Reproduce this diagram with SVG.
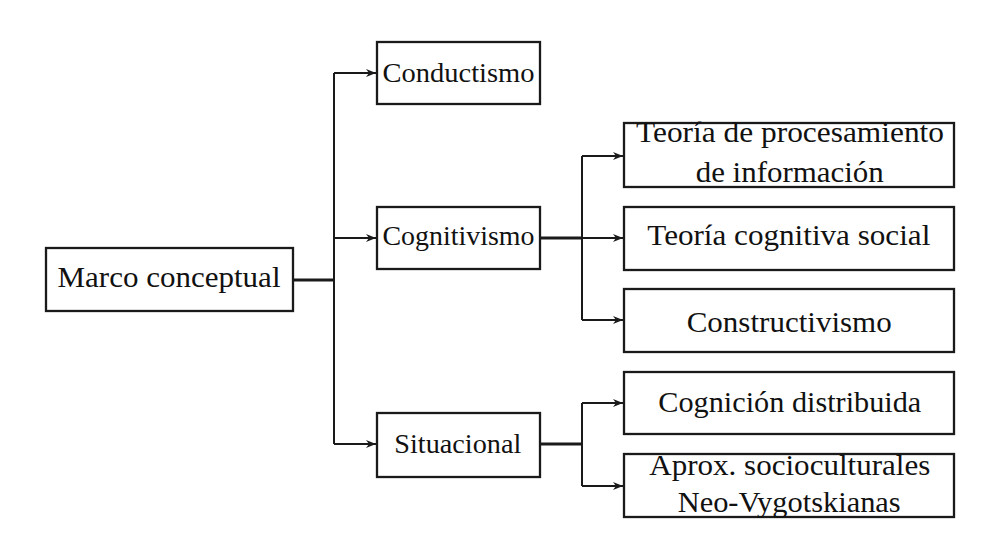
<svg xmlns="http://www.w3.org/2000/svg" width="984" height="536" viewBox="0 0 984 536">
<style>
.box{fill:#fff;stroke:#1a1a1a;stroke-width:2.3}
.t{font-family:"Liberation Serif","Times New Roman",serif;fill:#111}
.l0{font-size:30px}
.l1{font-size:27.5px}
.l2{font-size:29px}
.c{fill:none;stroke:#1a1a1a;stroke-width:2}
.a{fill:none;stroke:#1a1a1a;stroke-width:1.9;marker-end:url(#ah)}
.thick{stroke-width:2.8}
</style>
<defs>
<marker id="ah" viewBox="0 0 10 8" refX="10" refY="4" markerWidth="11" markerHeight="8" markerUnits="userSpaceOnUse" orient="auto">
<path d="M0,0 L10,4 L0,8 L3,4 Z" fill="#1a1a1a"/>
</marker>
</defs>
<rect width="984" height="536" fill="#fff"/>
<g id="connectors">
<path class="c thick" d="M293,280 H334"/>
<path class="c" d="M334,73 V444"/>
<path class="a" d="M334,73 H376"/>
<path class="a" d="M334,238 H376"/>
<path class="a" d="M334,444 H376"/>
<path class="c thick" d="M540,238 H582"/>
<path class="c" d="M582,156 V320"/>
<path class="a" d="M582,156 H623"/>
<path class="a" d="M582,238 H623"/>
<path class="a" d="M582,320 H623"/>
<path class="c thick" d="M540,444 H582"/>
<path class="c" d="M582,403 V486"/>
<path class="a" d="M582,403 H623"/>
<path class="a" d="M582,486 H623"/>
</g>
<g id="marco">
<rect class="box" x="46" y="248" width="247" height="63"/>
<text class="t l0" x="57.5" y="286.5" textLength="223" lengthAdjust="spacingAndGlyphs">Marco conceptual</text>
</g>
<g id="conductismo">
<rect class="box" x="377" y="42" width="163" height="62"/>
<text class="t l1" x="382.5" y="81.7" textLength="152" lengthAdjust="spacingAndGlyphs">Conductismo</text>
</g>
<g id="cognitivismo">
<rect class="box" x="377" y="207" width="163" height="62"/>
<text class="t l1" x="382.5" y="245" textLength="152" lengthAdjust="spacingAndGlyphs">Cognitivismo</text>
</g>
<g id="situacional">
<rect class="box" x="377" y="413" width="163" height="64"/>
<text class="t l1" x="394.3" y="453" textLength="127" lengthAdjust="spacingAndGlyphs">Situacional</text>
</g>
<g id="procesamiento">
<rect class="box" x="624" y="123" width="330" height="64"/>
<text class="t l2" x="636" y="141.7" textLength="308" lengthAdjust="spacingAndGlyphs">Teoría de procesamiento</text>
<text class="t l2" x="695.7" y="181.7" textLength="188" lengthAdjust="spacingAndGlyphs">de información</text>
</g>
<g id="cognitiva-social">
<rect class="box" x="624" y="207" width="330" height="63"/>
<text class="t l2" x="647.3" y="245" textLength="283" lengthAdjust="spacingAndGlyphs">Teoría cognitiva social</text>
</g>
<g id="constructivismo">
<rect class="box" x="624" y="289" width="330" height="63"/>
<text class="t l2" x="686.7" y="331.7" textLength="205" lengthAdjust="spacingAndGlyphs">Constructivismo</text>
</g>
<g id="cognicion-distribuida">
<rect class="box" x="624" y="372" width="330" height="62"/>
<text class="t l2" x="658.3" y="411.7" textLength="263" lengthAdjust="spacingAndGlyphs">Cognición distribuida</text>
</g>
<g id="neo-vygotskianas">
<rect class="box" x="624" y="454" width="330" height="63"/>
<text class="t l2" x="649.3" y="475" textLength="281" lengthAdjust="spacingAndGlyphs">Aprox. socioculturales</text>
<text class="t l2" x="677.7" y="511.7" textLength="223" lengthAdjust="spacingAndGlyphs">Neo-Vygotskianas</text>
</g>
</svg>
